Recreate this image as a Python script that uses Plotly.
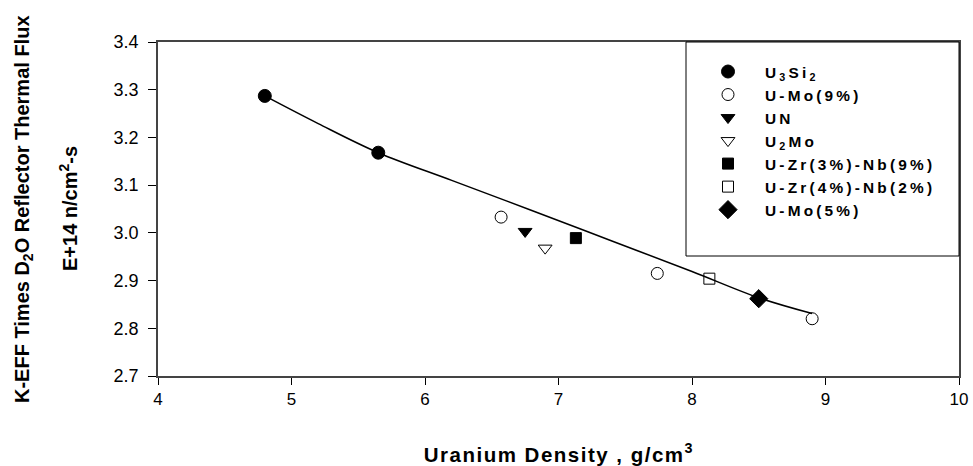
import plotly.graph_objects as go

# ---- data ----
u3si2_x = [4.80, 5.65]
u3si2_y = [3.287, 3.168]
umo9_x = [6.57, 7.74, 8.90]
umo9_y = [3.033, 2.915, 2.820]
un_x = [6.75]
un_y = [3.003]
u2mo_x = [6.90]
u2mo_y = [2.968]
uzr3_x = [7.13]
uzr3_y = [2.989]
uzr4_x = [8.13]
uzr4_y = [2.904]
umo5_x = [8.50]
umo5_y = [2.862]
fit_x = [4.80, 5.20, 5.65, 6.20, 6.80, 7.40, 8.00, 8.50, 8.90]
fit_y = [3.287, 3.229, 3.168, 3.110, 3.047, 2.983, 2.919, 2.864, 2.831]

x_ticks = [4, 5, 6, 7, 8, 9, 10]
y_ticks = [2.7, 2.8, 2.9, 3.0, 3.1, 3.2, 3.3, 3.4]

FONT = "Liberation Sans, Arial, sans-serif"

fig = go.Figure()
fig.add_trace(go.Scatter(x=fit_x, y=fit_y, mode="lines", line=dict(color="black", width=1.5, shape="spline"),
                         showlegend=False, hoverinfo="skip"))

series = [
    ("U<sub>3</sub>Si<sub>2</sub>", u3si2_x, u3si2_y, "circle", "black", 13),
    ("U-Mo(9%)", umo9_x, umo9_y, "circle-open", "black", 12),
    ("UN", un_x, un_y, "triangle-down", "black", 12),
    ("U<sub>2</sub>Mo", u2mo_x, u2mo_y, "triangle-down-open", "black", 12),
    ("U-Zr(3%)-Nb(9%)", uzr3_x, uzr3_y, "square", "black", 11),
    ("U-Zr(4%)-Nb(2%)", uzr4_x, uzr4_y, "square-open", "black", 11),
    ("U-Mo(5%)", umo5_x, umo5_y, "diamond", "black", 14),
]
for name, xs, ys, sym, col, sz in series:
    fig.add_trace(go.Scatter(x=xs, y=ys, mode="markers", name=name,
                             marker=dict(symbol=sym, color=col, size=sz, line=dict(color="black", width=1))))

# legend frame
fig.add_shape(type="rect", xref="paper", yref="paper",
              x0=(686 - 158) / 801, x1=1.0, y0=(376 - 256) / 334, y1=1.0,
              fillcolor="white", line=dict(color="black", width=1), layer="above")

fig.update_layout(
    width=973, height=466,
    margin=dict(l=158, r=14, t=42, b=90),
    paper_bgcolor="white", plot_bgcolor="white",
    font=dict(family=FONT, color="black", size=17),
    showlegend=True,
    legend=dict(x=(691 - 158) / 801, y=(376 - 55) / 334, xanchor="left", yanchor="top",
                bgcolor="rgba(0,0,0,0)", borderwidth=0,
                font=dict(family=FONT, size=15.4, weight="bold", color="black"),
                itemwidth=64, tracegroupgap=0),
    xaxis=dict(range=[4, 10], tickvals=x_ticks, ticks="outside", ticklen=7, tickcolor="black",
               showgrid=False, zeroline=False, showline=True, linecolor="#444", linewidth=1.5,
               mirror=True, tickfont=dict(size=17), automargin=False),
    yaxis=dict(range=[2.7, 3.4], tickvals=y_ticks, tickformat=".1f", ticks="outside", ticklen=8,
               tickcolor="black", showgrid=False, zeroline=False, showline=True, linecolor="#444",
               linewidth=1.5, mirror=True, tickfont=dict(size=18), ticklabelstandoff=6, automargin=False),
    annotations=[
        dict(text="<b>K-EFF Times D<sub>2</sub>O Reflector Thermal Flux</b>", xref="paper", yref="paper",
             x=0, y=0.5, xshift=-135, xanchor="center", yanchor="middle", textangle=-90,
             showarrow=False, font=dict(size=20)),
        dict(text="<b>E+14 n/cm<sup>2</sup>-s</b>", xref="paper", yref="paper",
             x=0, y=0.5, xshift=-90, xanchor="center", yanchor="middle", textangle=-90,
             showarrow=False, font=dict(size=20)),
        dict(text="<b>Uranium Density , g/cm<sup>3</sup></b>", xref="paper", yref="paper",
             x=0.5, y=0, yshift=-77, xanchor="center", yanchor="middle",
             showarrow=False, font=dict(size=20.5)),
    ],
)

post = """
var gd = document.getElementById('{plot_id}');
function sp(){
  gd.querySelectorAll('.legendtext').forEach(function(e){ e.style.letterSpacing = '3.2px'; });
  gd.querySelectorAll('.legend .scrollbox').forEach(function(e){ e.removeAttribute('clip-path'); });
  gd.querySelectorAll('.legend').forEach(function(e){ e.removeAttribute('clip-path'); });
  gd.querySelectorAll('.annotation-text').forEach(function(e){
    if (e.textContent.indexOf('Uranium') === 0) { e.style.letterSpacing = '1.5px'; }
  });
}
sp();
if (gd.on) { gd.on('plotly_afterplot', sp); }
"""

fig.write_html("out.html", post_script=post)
